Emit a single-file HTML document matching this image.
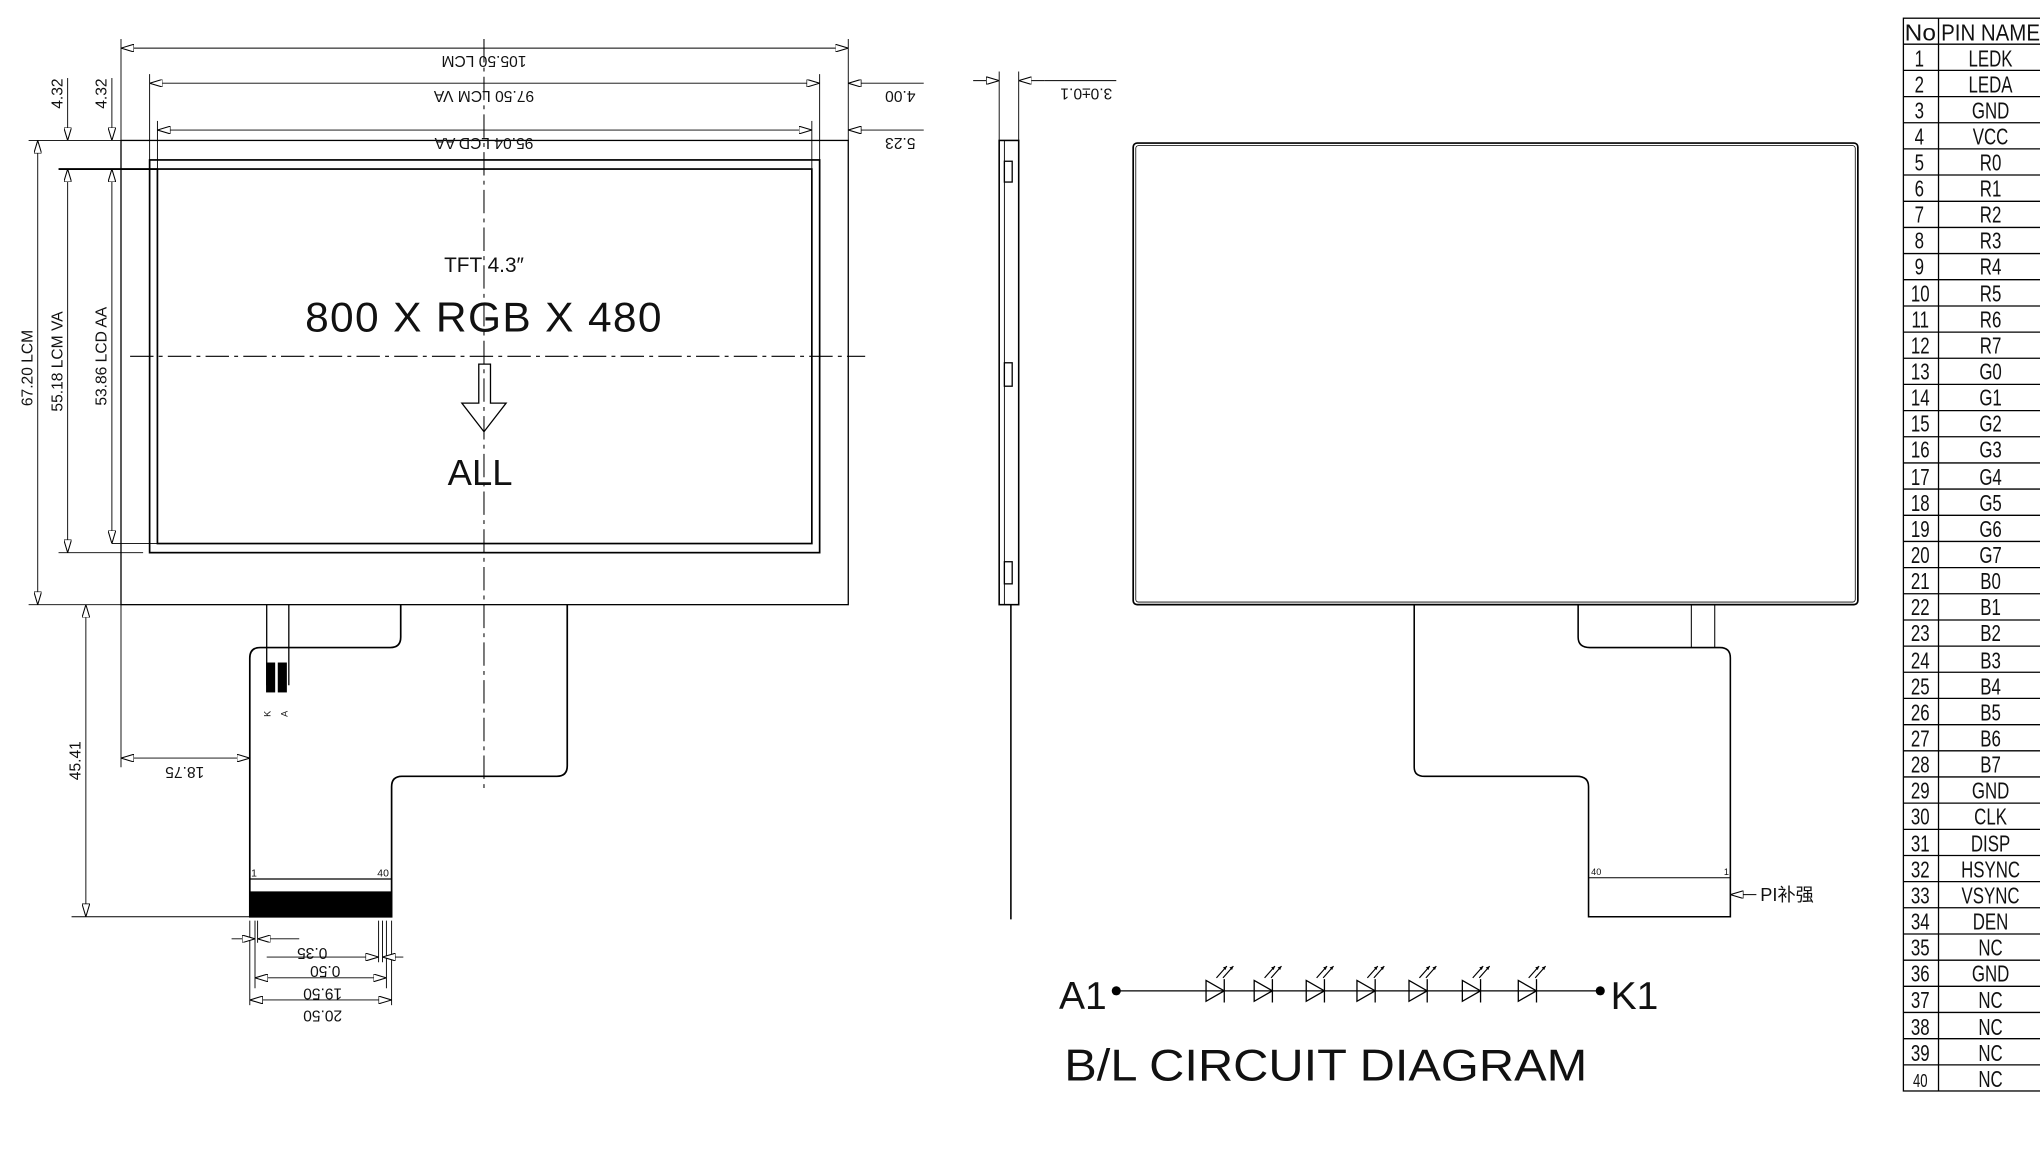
<!DOCTYPE html>
<html><head><meta charset="utf-8"><style>
html,body{margin:0;padding:0;background:#fff;}
svg{display:block;}
text{font-family:"Liberation Sans","Noto Sans CJK SC",sans-serif;fill:#111;}
.t{font-family:"Liberation Sans",sans-serif;font-size:18px;fill:#222;}
</style></head><body>
<svg width="2040" height="1156" viewBox="0 0 1568 889" preserveAspectRatio="none" xmlns="http://www.w3.org/2000/svg">
<defs>
<marker id="ar" viewBox="0 0 10 6" refX="10" refY="3" markerWidth="10" markerHeight="6" orient="auto" markerUnits="userSpaceOnUse"><path d="M0,0 L10,3 L0,6 Z" fill="#fff" stroke="#000" stroke-width="0.8"/></marker>
<marker id="ars" viewBox="0 0 10 6" refX="0" refY="3" markerWidth="10" markerHeight="6" orient="auto" markerUnits="userSpaceOnUse"><path d="M10,0 L0,3 L10,6 Z" fill="#fff" stroke="#000" stroke-width="0.8"/></marker>
</defs>
<g stroke="#000" fill="none" stroke-width="1">
<rect x="93" y="108" width="559" height="357"/>
<rect x="115" y="123" width="515" height="302" stroke-width="1.3"/>
<rect x="121" y="130" width="503" height="288" stroke-width="1.3"/>
<line x1="372" y1="30" x2="372" y2="607" stroke-dasharray="18,4,3,4" stroke-width="0.8"/>
<line x1="100" y1="274" x2="665" y2="274" stroke-dasharray="18,4,3,4" stroke-width="0.8"/>
<line x1="93" y1="30" x2="93" y2="108" stroke-width="0.7"/>
<line x1="652" y1="30" x2="652" y2="108" stroke-width="0.7"/>
<line x1="93" y1="37" x2="652" y2="37" marker-start="url(#ars)" marker-end="url(#ar)" stroke-width="0.7"/>
<line x1="115" y1="57" x2="115" y2="123" stroke-width="0.7"/>
<line x1="630" y1="57" x2="630" y2="123" stroke-width="0.7"/>
<line x1="115" y1="64" x2="630" y2="64" marker-start="url(#ars)" marker-end="url(#ar)" stroke-width="0.7"/>
<line x1="121" y1="93" x2="121" y2="130" stroke-width="0.7"/>
<line x1="624" y1="93" x2="624" y2="130" stroke-width="0.7"/>
<line x1="121" y1="100" x2="624" y2="100" marker-start="url(#ars)" marker-end="url(#ar)" stroke-width="0.7"/>
<line x1="652" y1="64" x2="710" y2="64" stroke-width="0.7"/>
<line x1="652" y1="100" x2="710" y2="100" stroke-width="0.7"/>
<line x1="660" y1="64" x2="652" y2="64" marker-end="url(#ar)" stroke-width="0.7"/>
<line x1="660" y1="100" x2="652" y2="100" marker-end="url(#ar)" stroke-width="0.7"/>
<line x1="22" y1="108" x2="93" y2="108" stroke-width="0.7"/>
<line x1="22" y1="465" x2="93" y2="465" stroke-width="0.7"/>
<line x1="45" y1="130" x2="121" y2="130" stroke-width="1.5"/>
<line x1="45" y1="425" x2="110" y2="425" stroke-width="0.7"/>
<line x1="86" y1="418" x2="121" y2="418" stroke-width="0.7"/>
<line x1="29" y1="108" x2="29" y2="465" marker-start="url(#ars)" marker-end="url(#ar)" stroke-width="0.7"/>
<line x1="52" y1="130" x2="52" y2="425" marker-start="url(#ars)" marker-end="url(#ar)" stroke-width="0.7"/>
<line x1="86" y1="130" x2="86" y2="418" marker-start="url(#ars)" marker-end="url(#ar)" stroke-width="0.7"/>
<line x1="52" y1="60" x2="52" y2="108" marker-end="url(#ar)" stroke-width="0.7"/>
<line x1="86" y1="60" x2="86" y2="108" marker-end="url(#ar)" stroke-width="0.7"/>
<path d="M368,280 H377 V310 H389 L372,332 L355,310 H368 Z" stroke-width="1"/>
<path d="M308,465 V490 Q308,498 300,498 H200 Q192,498 192,506 V705 H301 V605 Q301,597 309,597 H428 Q436,597 436,589 V465" stroke-width="1.3"/>
<line x1="192" y1="676" x2="301" y2="676"/>
<rect x="192" y="686" width="109" height="19" fill="#000"/>
<line x1="205" y1="465" x2="205" y2="527"/>
<line x1="222" y1="465" x2="222" y2="527"/>
<rect x="205" y="510" width="6" height="22" fill="#000"/>
<rect x="214" y="510" width="6" height="22" fill="#000"/>
<line x1="55" y1="705" x2="192" y2="705" stroke-width="0.7"/>
<line x1="66" y1="465" x2="66" y2="705" marker-start="url(#ars)" marker-end="url(#ar)" stroke-width="0.7"/>
<line x1="93" y1="465" x2="93" y2="590" stroke-width="0.7"/>
<line x1="93" y1="583" x2="192" y2="583" marker-start="url(#ars)" marker-end="url(#ar)" stroke-width="0.7"/>
<line x1="192" y1="708" x2="192" y2="773" stroke-width="0.7"/>
<line x1="196" y1="708" x2="196" y2="760" stroke-width="0.7"/>
<line x1="198" y1="708" x2="198" y2="725" stroke-width="0.7"/>
<line x1="291" y1="708" x2="291" y2="740" stroke-width="0.7"/>
<line x1="294" y1="708" x2="294" y2="740" stroke-width="0.7"/>
<line x1="297" y1="708" x2="297" y2="760" stroke-width="0.7"/>
<line x1="301" y1="708" x2="301" y2="773" stroke-width="0.7"/>
<line x1="178" y1="722" x2="196" y2="722" marker-end="url(#ar)" stroke-width="0.7"/>
<line x1="230" y1="722" x2="198" y2="722" marker-end="url(#ar)" stroke-width="0.7"/>
<line x1="205" y1="736" x2="291" y2="736" marker-end="url(#ar)" stroke-width="0.7"/>
<line x1="310" y1="736" x2="294" y2="736" marker-end="url(#ar)" stroke-width="0.7"/>
<line x1="196" y1="752" x2="297" y2="752" marker-start="url(#ars)" marker-end="url(#ar)" stroke-width="0.7"/>
<line x1="192" y1="769" x2="301" y2="769" marker-start="url(#ars)" marker-end="url(#ar)" stroke-width="0.7"/>

<rect x="768" y="108" width="15" height="357" stroke-width="1.2"/>
<line x1="772" y1="108" x2="772" y2="465" stroke-width="0.7"/>
<rect x="772" y="124" width="6" height="16"/>
<rect x="772" y="279" width="6" height="18"/>
<rect x="772" y="432" width="6" height="17"/>
<line x1="777" y1="465" x2="777" y2="707" stroke-width="1.2"/>
<line x1="768" y1="55" x2="768" y2="108" stroke-width="0.7"/>
<line x1="783" y1="55" x2="783" y2="108" stroke-width="0.7"/>
<line x1="748" y1="62" x2="768" y2="62" marker-end="url(#ar)" stroke-width="0.7"/>
<line x1="803" y1="62" x2="783" y2="62" marker-end="url(#ar)" stroke-width="0.7"/>
<line x1="803" y1="62" x2="858" y2="62" stroke-width="0.7"/>

<rect x="871" y="110" width="557" height="355" rx="3" stroke-width="1.3"/>
<rect x="873" y="112" width="553" height="351" rx="2" stroke-width="0.6"/>
<path d="M1087,465 V590 Q1087,597 1095,597 H1212 Q1221,597 1221,605 V705 H1330 V506 Q1330,498 1322,498 H1222 Q1213,498 1213,490 V465" stroke-width="1.2"/>
<line x1="1300" y1="465" x2="1300" y2="498" stroke-width="0.8"/>
<line x1="1318" y1="465" x2="1318" y2="498" stroke-width="0.8"/>
<line x1="1221" y1="675" x2="1330" y2="675" stroke-width="0.8"/>
<line x1="1350" y1="688" x2="1330" y2="688" marker-end="url(#ar)" stroke-width="0.7"/>

<line x1="858" y1="762" x2="1230" y2="762" stroke-width="1"/>
<g stroke-width="1">
<path d="M927,754 L941,762 L927,770 Z M941,753 V771"/>
<path d="M964,754 L978,762 L964,770 Z M978,753 V771"/>
<path d="M1004,754 L1018,762 L1004,770 Z M1018,753 V771"/>
<path d="M1043,754 L1057,762 L1043,770 Z M1057,753 V771"/>
<path d="M1083,754 L1097,762 L1083,770 Z M1097,753 V771"/>
<path d="M1124,754 L1138,762 L1124,770 Z M1138,753 V771"/>
<path d="M1167,754 L1181,762 L1167,770 Z M1181,753 V771"/>
</g>
<g stroke-width="0.9">
<path d="M935,752 l8,-9 M940,752 l8,-9"/>
<path d="M972,752 l8,-9 M977,752 l8,-9"/>
<path d="M1012,752 l8,-9 M1017,752 l8,-9"/>
<path d="M1051,752 l8,-9 M1056,752 l8,-9"/>
<path d="M1091,752 l8,-9 M1096,752 l8,-9"/>
<path d="M1132,752 l8,-9 M1137,752 l8,-9"/>
<path d="M1175,752 l8,-9 M1180,752 l8,-9"/>
</g>
</g>
<g fill="#000">
<circle cx="858" cy="762" r="3.5"/><circle cx="1230" cy="762" r="3.5"/>
<path d="M943,743 l-3,1 2,2z M948,743 l-3,1 2,2z M980,743 l-3,1 2,2z M985,743 l-3,1 2,2z M1020,743 l-3,1 2,2z M1025,743 l-3,1 2,2z M1059,743 l-3,1 2,2z M1064,743 l-3,1 2,2z M1099,743 l-3,1 2,2z M1104,743 l-3,1 2,2z M1140,743 l-3,1 2,2z M1145,743 l-3,1 2,2z M1183,743 l-3,1 2,2z M1188,743 l-3,1 2,2z"/>
</g>

<g font-size="12">
<text transform="translate(372,43) rotate(180)" text-anchor="middle">105.50 LCM</text>
<text transform="translate(372,70) rotate(180)" text-anchor="middle">97.50 LCM VA</text>
<text transform="translate(372,106) rotate(180)" text-anchor="middle">95.04 LCD AA</text>
<text transform="translate(692,70) rotate(180)" text-anchor="middle">4.00</text>
<text transform="translate(692,106) rotate(180)" text-anchor="middle">5.23</text>
<text transform="translate(835,68) rotate(180)" text-anchor="middle">3.0±0.1</text>
<text transform="translate(25,283) rotate(-90)" text-anchor="middle">67.20 LCM</text>
<text transform="translate(48,278) rotate(-90)" text-anchor="middle">55.18 LCM VA</text>
<text transform="translate(82,274) rotate(-90)" text-anchor="middle">53.86 LCD AA</text>
<text transform="translate(48,72) rotate(-90)" text-anchor="middle">4.32</text>
<text transform="translate(82,72) rotate(-90)" text-anchor="middle">4.32</text>
<text transform="translate(62,585) rotate(-90)" text-anchor="middle">45.41</text>
<text transform="translate(142,590) rotate(180)" text-anchor="middle">18.75</text>
<text transform="translate(240,729) rotate(180)" text-anchor="middle">0.35</text>
<text transform="translate(250,743) rotate(180)" text-anchor="middle">0.50</text>
<text transform="translate(248,760) rotate(180)" text-anchor="middle">19.50</text>
<text transform="translate(248,777) rotate(180)" text-anchor="middle">20.50</text>
</g>
<text x="372" y="209" font-size="16" text-anchor="middle" fill="#333">TFT 4.3″</text>
<text x="372" y="255" font-size="32" text-anchor="middle" letter-spacing="1" fill="#333" textLength="275" lengthAdjust="spacingAndGlyphs">800 X RGB X 480</text>
<text x="369" y="373" font-size="28" text-anchor="middle" fill="#333">ALL</text>
<text transform="translate(208,549) rotate(-90)" font-size="7" text-anchor="middle">K</text>
<text transform="translate(221,549) rotate(-90)" font-size="7" text-anchor="middle">A</text>
<text x="193" y="674" font-size="8">1</text>
<text x="290" y="674" font-size="8">40</text>
<text x="1223" y="673" font-size="7">40</text>
<text x="1325" y="673" font-size="7">1</text>
<text x="1353" y="693" font-size="14">PI补强</text>
<text x="814" y="776" font-size="30" fill="#333">A1</text>
<text x="1238" y="776" font-size="30" fill="#333">K1</text>
<text x="818" y="831" font-size="34" fill="#333" textLength="402" lengthAdjust="spacingAndGlyphs">B/L CIRCUIT DIAGRAM</text>

<g stroke="#000" stroke-width="1" fill="none">
<rect x="1463" y="14" width="120" height="825"/>
<line x1="1490" y1="14" x2="1490" y2="839"/>
<line x1="1463" y1="34" x2="1583" y2="34"/>
<path d="M1463,54.1H1583M1463,74.3H1583M1463,94.4H1583M1463,114.5H1583M1463,134.6H1583M1463,154.8H1583M1463,174.9H1583M1463,195H1583M1463,215.1H1583M1463,235.3H1583M1463,255.4H1583M1463,275.5H1583M1463,295.6H1583M1463,315.8H1583M1463,335.9H1583M1463,356H1583M1463,376.1H1583M1463,396.3H1583M1463,416.4H1583M1463,436.5H1583M1463,456.6H1583M1463,476.8H1583M1463,496.9H1583M1463,517H1583M1463,537.1H1583M1463,557.3H1583M1463,577.4H1583M1463,597.5H1583M1463,617.6H1583M1463,637.8H1583M1463,657.9H1583M1463,678H1583M1463,698.1H1583M1463,718.3H1583M1463,738.4H1583M1463,758.5H1583M1463,778.6H1583M1463,798.8H1583M1463,818.9H1583"/>
</g>
<g class="t">
<text x="1464" y="31" textLength="24" lengthAdjust="spacingAndGlyphs">No</text><text x="1492" y="31" textLength="76" lengthAdjust="spacingAndGlyphs">PIN NAME</text>
</g>
<g class="t" text-anchor="middle" transform="translate(1476,0) scale(0.72,1) translate(-1476,0)">
<text x="1475" y="51">1</text><text x="1475" y="71">2</text><text x="1475" y="91">3</text><text x="1475" y="111">4</text><text x="1475" y="131">5</text><text x="1475" y="151">6</text><text x="1475" y="171">7</text><text x="1475" y="191">8</text><text x="1475" y="211">9</text>
<text x="1476" y="232">10</text><text x="1476" y="252">11</text><text x="1476" y="272">12</text><text x="1476" y="292">13</text><text x="1476" y="312">14</text><text x="1476" y="332">15</text><text x="1476" y="352">16</text><text x="1476" y="373">17</text><text x="1476" y="393">18</text><text x="1476" y="413">19</text><text x="1476" y="433">20</text><text x="1476" y="453">21</text><text x="1476" y="473">22</text><text x="1476" y="493">23</text><text x="1476" y="514">24</text><text x="1476" y="534">25</text><text x="1476" y="554">26</text><text x="1476" y="574">27</text><text x="1476" y="594">28</text><text x="1476" y="614">29</text><text x="1476" y="634">30</text><text x="1476" y="655">31</text><text x="1476" y="675">32</text><text x="1476" y="695">33</text><text x="1476" y="715">34</text><text x="1476" y="735">35</text><text x="1476" y="755">36</text><text x="1476" y="775">37</text><text x="1476" y="796">38</text><text x="1476" y="816">39</text><text x="1476" y="836" font-size="14">40</text>
</g>
<g class="t" text-anchor="middle" transform="translate(1530,0) scale(0.72,1) translate(-1530,0)">
<text x="1530" y="51">LEDK</text><text x="1530" y="71">LEDA</text><text x="1530" y="91">GND</text><text x="1530" y="111">VCC</text><text x="1530" y="131">R0</text><text x="1530" y="151">R1</text><text x="1530" y="171">R2</text><text x="1530" y="191">R3</text><text x="1530" y="211">R4</text><text x="1530" y="232">R5</text><text x="1530" y="252">R6</text><text x="1530" y="272">R7</text><text x="1530" y="292">G0</text><text x="1530" y="312">G1</text><text x="1530" y="332">G2</text><text x="1530" y="352">G3</text><text x="1530" y="373">G4</text><text x="1530" y="393">G5</text><text x="1530" y="413">G6</text><text x="1530" y="433">G7</text><text x="1530" y="453">B0</text><text x="1530" y="473">B1</text><text x="1530" y="493">B2</text><text x="1530" y="514">B3</text><text x="1530" y="534">B4</text><text x="1530" y="554">B5</text><text x="1530" y="574">B6</text><text x="1530" y="594">B7</text><text x="1530" y="614">GND</text><text x="1530" y="634">CLK</text><text x="1530" y="655">DISP</text><text x="1530" y="675">HSYNC</text><text x="1530" y="695">VSYNC</text><text x="1530" y="715">DEN</text><text x="1530" y="735">NC</text><text x="1530" y="755">GND</text><text x="1530" y="775">NC</text><text x="1530" y="796">NC</text><text x="1530" y="816">NC</text><text x="1530" y="836">NC</text>
</g>
</svg>
</body></html>
